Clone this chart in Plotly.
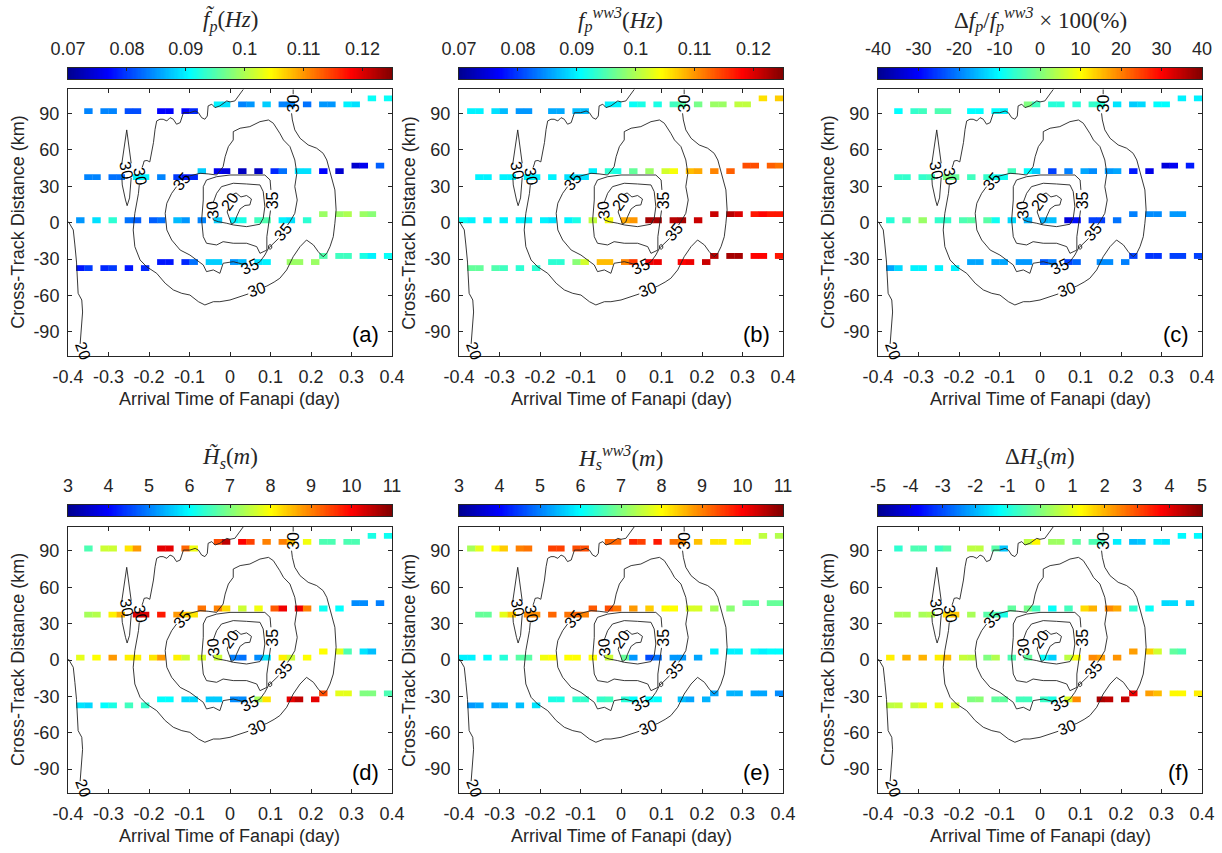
import plotly.graph_objects as go
import numpy as np

# ---------------- data ----------------
STEP = 0.02  # sampling interval along each track (day)
SEG_NAMES = ['T1L', 'T1M', 'T1R', 'T2L', 'T2M', 'T2R', 'T3L', 'T3R', 'T4L', 'T4M', 'T4R']
SEG_Y = [92.0, 97.5, 102.5, 37.5, 42.5, 47.0, 2.0, 7.0, -37.5, -32.5, -27.5]      # km
SEG_T0 = [-0.38, -0.04, 0.34, -0.36, -0.08, 0.30, -0.40, 0.22, -0.38, -0.18, 0.22]  # day
N = None

FP_OBS = {  # f_p observed (Hz)
    'T1L': [N, .084, N, .084, .084, N, .081, .081, N, N, .077, .077, N, .077, .079],
    'T1M': [.090, .089, N, .084, .085, N, .088, N, .084, .084, N, .083, N, .085, .085, N, .090, .089],
    'T1R': [.091, N, .091],
    'T2L': [.084, .084, N, .083, .083, N, .090, .090, N, .084, N, .080, .078, .079],
    'T2M': [.088, N, .076, .075, N, .073, N, .073, N, .079, .083, N, .089, .089, N, .077, N, .074],
    'T2R': [.074, .076, N, .082, N],
    'T3L': [N, .085, N, .089, N, .093, N, .083, .082, N, .082, .083, N, .087, .085, N, .084, N, .088, N,
            .090, .092, N, .094, .095, N, .090, .089, N, .093],
    'T3R': [.099, N, .099, .100, N, .099, .098, N, N],
    'T4L': [.078, .080, N, .079, .080, N, .078, N, .079],
    'T4M': [.078, .078, N, .079, .083, N, .088, .088, N, .085, .087, N, .089, .090, N, N, .099, .099, N, .099],
    'T4R': [.095, N, .094, .094, N, .092, .090, N, .091],
}
FP_WW3 = {  # f_p WW3 (Hz)
    'T1L': [.090, .090, N, .089, .087, N, .085, .085, N, N, .086, .086, N, .087, .087],
    'T1M': [.090, .090, N, .091, .092, N, .092, N, .094, .095, N, .097, N, .099, .099, N, .101, .101],
    'T1R': [.106, N, .107],
    'T2L': [.090, .090, N, .090, .090, N, .090, .090, N, .090, N, .089, .089, .089],
    'T2M': [.090, N, .093, .092, N, .096, N, .099, N, .102, .104, N, .108, .109, N, .111, N, .113],
    'T2R': [.114, .114, N, .113, .112],
    'T3L': [.091, .090, N, .090, N, .090, N, .090, .090, N, .090, .089, N, .090, .092, N, .101, N, .104, N,
            .109, .110, N, .123, .123, N, .122, .123, N, .121],
    'T3R': [.121, N, .122, .120, N, .117, .118, .117, .117],
    'T4L': [.096, .096, N, .095, .094, N, .093, N, .093],
    'T4M': [.093, .093, N, .098, .102, N, .108, .108, N, .111, .115, N, .119, .119, N, N, .118, .119, N, .121],
    'T4R': [.122, N, .123, .123, N, .118, .118, N, .117],
}
DFP_PCT = {  # relative f_p difference (%)
    'T1L': [N, -10, N, -6, -5, N, -4, -4, N, N, -10, -10, N, -10, -11],
    'T1M': [0, -5, N, -7, -7, N, -7, N, -6, -7, N, -12, N, -14, -13, N, -10, -10],
    'T1R': [-11, N, -11],
    'T2L': [-6, -6, N, -6, -5, N, 0, -2, N, -5, N, -6, -9, -9],
    'T2M': [-5, N, -10, -14, N, -25, N, -20, N, -17, -19, N, -18, -17, N, -28, N, -32],
    'T2R': [-33, -31, N, -28, N],
    'T3L': [N, -7, N, -3, N, 2, N, -6, -6, N, -4, -3, N, -3, -9, N, -13, N, -16, N,
            -16, -15, N, -33, -29, N, -25, -25, N, -21],
    'T3R': [-20, N, -19, -19, N, -18, -18, N, N],
    'T4L': [-17, -13, N, -11, -11, N, -11, N, -11],
    'T4M': [-17, -17, N, -17, -17, N, -18, -18, N, -23, -20, N, -25, -22, N, N, -19, -19, N, -20],
    'T4R': [-25, N, -26, -26, N, -25, -25, N, -25],
}
HS_OBS = {  # H_s observed (m)
    'T1L': [N, 6.6, N, 7.6, 7.6, N, 8.2, 8.8, N, N, 10.2, 10.2, N, 9.2, 7.9],
    'T1M': [9.4, 10.5, N, 10.0, 9.5, N, 9.0, N, 9.0, 8.5, N, 7.9, N, 6.6, 6.6, N, 6.6, 6.6],
    'T1R': [6.2, N, 6.1],
    'T2L': [7.3, 7.4, N, 8.1, 8.6, N, 10.3, 10.3, N, 9.8, N, 8.8, 8.4, 8.2],
    'T2M': [9.1, N, 9.0, 8.3, N, 7.6, N, 7.9, N, 9.3, 10.1, N, 10.1, 9.0, N, 6.1, N, 6.0],
    'T2R': [5.1, 5.1, N, 5.0, N],
    'T3L': [N, 7.8, N, 8.0, N, 8.8, N, 8.1, 8.1, N, 8.2, 8.8, N, 8.1, 7.6, N, 7.7, N, 7.6, N,
            5.0, 4.9, N, 5.1, 5.8, N, 8.1, 7.6, N, 8.0],
    'T3R': [8.0, N, 7.8, 6.6, N, 5.8, 5.5, N, N],
    'T4L': [5.8, 5.7, N, 6.0, 6.2, N, 6.5, N, 6.4],
    'T4M': [6.0, 6.0, N, 5.7, 5.7, N, 5.6, 5.6, N, 5.1, 5.1, N, 7.3, 8.2, N, N, 10.2, 10.5, N, 10.2],
    'T4R': [9.4, N, 7.8, 7.8, N, 7.0, 7.0, N, 6.6],
}
HS_WW3 = {  # H_s WW3 (m)
    'T1L': [7.3, 7.8, N, 8.0, 8.4, N, 9.0, 9.1, N, N, 9.5, 9.5, N, 9.4, 9.4],
    'T1M': [9.2, 9.2, N, 9.7, 9.5, N, 9.8, N, 9.1, 8.9, N, 8.5, N, 8.2, 8.2, N, 8.0, 7.9],
    'T1R': [7.5, N, 7.4],
    'T2L': [6.8, 6.8, N, 7.8, 8.4, N, 8.9, 8.9, N, 9.2, N, 9.1, 9.2, 9.0],
    'T2M': [9.3, N, 9.4, 9.1, N, 8.8, N, 8.4, N, 8.0, 8.0, N, 7.7, 7.7, N, 7.3, N, 7.1],
    'T2R': [6.8, 6.8, N, 6.8, 6.8],
    'T3L': [5.9, 5.9, N, 6.0, N, 6.3, N, 6.7, 6.7, N, 7.9, 8.0, N, 8.0, 8.0, N, 8.0, N, 7.6, N,
            6.8, 5.2, N, 4.6, 4.9, N, 5.2, 5.2, N, 5.3],
    'T3R': [5.9, N, 5.9, 5.9, N, 6.1, 5.9, 6.0, 6.0],
    'T4L': [5.2, 5.3, N, 5.3, 5.4, N, 5.5, N, 5.8],
    'T4M': [6.2, 6.2, N, 6.4, 6.4, N, 6.4, 6.5, N, 6.3, 6.0, N, 6.0, 6.0, N, N, 5.5, 5.3, N, 5.4],
    'T4R': [5.3, N, 5.4, 5.4, N, 5.3, 5.3, N, 5.1],
}
DHS = {  # H_s difference (m)
    'T1L': [N, -0.8, N, -0.5, -0.5, N, -0.7, -0.4, N, N, 0.6, 0.6, N, -0.4, -1.8],
    'T1M': [0.6, 1.3, N, 0.3, 0.3, N, -0.3, N, -0.5, -0.6, N, -1.4, N, -1.9, -1.8, N, -1.4, -1.5],
    'T1R': [-1.3, N, -1.3],
    'T2L': [0.4, 0.4, N, 0.4, 0.5, N, 1.6, 1.8, N, 0.4, N, -0.4, -0.5, -1.0],
    'T2M': [-0.3, N, -0.1, -0.6, N, -1.2, N, -0.6, N, 1.6, 2.0, N, 2.4, 2.1, N, -0.8, N, -1.2],
    'T2R': [-1.6, -1.6, N, -1.7, N],
    'T3L': [N, 1.4, N, 2.0, N, 2.0, N, 1.4, 1.9, N, 0.7, 0.6, N, 0.0, 0.5, N, -0.5, N, -0.3, N,
            -1.2, -1.7, N, 0.6, 1.2, N, 2.4, 2.2, N, 2.3],
    'T3R': [2.2, N, 1.7, 0.8, N, -0.3, -0.5, N, N],
    'T4L': [0.6, 0.7, N, 0.7, 1.0, N, 1.1, N, 0.8],
    'T4M': [0.0, 0.1, N, -0.3, -0.3, N, -0.6, -0.6, N, -0.7, -1.0, N, 0.9, 2.4, N, N, 4.6, 4.4, N, 4.3],
    'T4R': [3.9, N, 2.2, 1.9, N, 1.3, 1.3, N, 1.4],
}

# wind-speed contour paths (time in day, cross-track km); None = break at a label
C_OUTER30_T = [0.033, 0.020, 0.012, 0.000, -0.008, -0.025, -0.037, -0.045, -0.054, -0.056, -0.062, -0.070,
               -0.078, -0.086, -0.099, -0.115, -0.123, -0.132, -0.140, -0.148, -0.156, -0.165, -0.173,
               -0.181, -0.185, -0.189, -0.193, -0.198, -0.205, -0.212, -0.214, -0.217, None,
               -0.224, -0.226, -0.235, -0.239, -0.235, -0.222, -0.206, -0.181, -0.160, -0.140, -0.119,
               -0.099, -0.078, -0.062, -0.041, -0.025, 0.000, 0.025, 0.045, None,
               0.085, 0.091, 0.109, 0.123, 0.140, 0.156, 0.173, 0.189, 0.206, 0.218, 0.230, 0.239, 0.247,
               0.255, 0.259, 0.262, 0.259, 0.251, 0.239, 0.230, 0.214, 0.193, 0.173, 0.160, 0.154, 0.152,
               None, 0.156, 0.156]
C_OUTER30_Y = [110.0, 104.5, 100.4, 99.6, 100.4, 96.3, 94.9, 97.7, 96.3, 88.0, 85.3, 86.6,
               90.7, 92.1, 90.7, 90.7, 82.5, 81.2, 85.3, 86.6, 83.9, 85.3, 85.3,
               83.9, 77.0, 66.0, 57.7, 50.1, 51.3, 50.9, 48.4, 45.5, None,
               31.0, 24.2, 7.7, -6.0, -19.8, -30.8, -36.3, -41.8, -50.0, -55.5, -58.3,
               -59.7, -65.2, -67.9, -65.2, -65.2, -63.8, -61.1, -58.8, None,
               -53.0, -52.3, -49.0, -45.9, -39.0, -28.1, -19.8, -14.3, -18.4, -24.0, -28.1, -25.3, -19.8,
               -11.6, -0.5, 10.5, 27.0, 37.9, 51.7, 57.2, 61.4, 64.1, 69.6, 76.5, 84.7, 90.2,
               None, 106.0, 110.0]
C_OUTER35_T = [-0.107, -0.091, -0.074, -0.054, -0.033, -0.017, -0.012, -0.004, 0.008, 0.008, 0.025, 0.049,
               0.074, 0.095, 0.107, 0.123, 0.132, 0.148, 0.160, 0.165, 0.160, 0.166, 0.160, 0.148, 0.142,
               None, 0.120, 0.107, 0.095, 0.086, 0.074, 0.062, None,
               0.035, 0.025, 0.008, -0.017, -0.025, -0.041, -0.058, -0.066, -0.082, -0.099, -0.123,
               -0.144, -0.156, -0.160, -0.156, -0.144, -0.132]
C_OUTER35_Y = [37.9, 39.3, 40.7, 40.2, 39.3, 46.2, 54.4, 62.7, 68.2, 75.1, 77.9, 79.2,
               83.3, 84.7, 82.0, 73.7, 68.2, 62.7, 51.7, 40.7, 29.7, 18.7, 7.7, 0.8, -2.0,
               None, -13.0, -17.0, -21.1, -26.7, -32.2, -34.5, None,
               -34.5, -33.5, -32.2, -33.5, -41.8, -39.0, -40.4, -34.9, -30.8, -26.7, -22.6,
               -14.3, -6.0, 7.7, 16.0, 24.2, 29.7]
C_INNER35_T = [0.101, 0.099, 0.086, 0.049, 0.000, -0.033, -0.058, -0.066, -0.066, -0.070, -0.066, -0.058,
               -0.033, -0.017, 0.008, 0.041, 0.066, 0.074, 0.091, 0.091, 0.095, 0.099, 0.100]
C_INNER35_Y = [27.0, 35.2, 39.3, 39.3, 39.3, 37.9, 35.2, 29.7, 18.7, 2.2, -11.6, -17.0,
               -18.4, -15.7, -17.0, -17.0, -19.8, -25.3, -22.6, -11.6, -0.5, 7.7, 10.0]
C_INNER30_T = [-0.041, -0.033, -0.021, 0.008, 0.041, 0.074, 0.082, 0.086, 0.082, 0.074, 0.041, 0.008,
               -0.008, -0.029, -0.041, -0.042]
C_INNER30_Y = [17.0, 24.2, 29.7, 32.5, 31.9, 31.1, 25.6, 13.2, 3.6, -1.3, -3.3, -1.9,
               -0.5, 0.8, 2.2, 4.0]
C_CORE20_T = [-0.005, -0.007, 0.004, 0.012, 0.016, 0.025, 0.037, 0.049, 0.053, 0.041, 0.027, 0.015, 0.006]
C_CORE20_Y = [11.0, 8.8, -1.4, 0.6, 4.7, 11.3, 14.2, 14.6, 19.5, 22.4, 21.2, 24.5, 23.0]
C_BLOB35_T = [0.099, 0.103, 0.103, 0.099, 0.095, 0.095, 0.099]
C_BLOB35_Y = [-18.0, -19.0, -21.0, -22.0, -21.0, -19.0, -18.0]
C_ELLIPSE30_T = [-0.255, -0.252, -0.247, -0.244, None, -0.244, -0.245, -0.248, -0.254, -0.258, -0.266,
                 -0.267, None, -0.267, -0.264, -0.259, -0.255]
C_ELLIPSE30_Y = [76.5, 68.2, 55.8, 49.0, None, 37.0, 31.1, 20.4, 14.0, 18.7, 31.1,
                 37.0, None, 49.0, 55.8, 68.2, 76.5]
C_EDGE20_T = [-0.399, -0.387, -0.383, -0.379, -0.375, -0.366, -0.364, -0.367, -0.370, -0.370]
C_EDGE20_Y = [0.8, -6.0, -18.4, -32.5, -58.3, -63.8, -73.7, -84.4, -96.8, -100.0]

# contour labels: time, km, text, rotation
CLAB_T = [0.156, 0.066, -0.222, -0.255, -0.119, 0.132, 0.049, 0.104, -0.042, 0.000, -0.362]
CLAB_Y = [98.5, -55.5, 38.0, 43.4, 33.8, -7.5, -36.3, 18.5, 10.5, 17.3, -106.0]
CLAB_TXT = ['30', '30', '30', '30', '35', '35', '35', '35', '30', '20', '20']
CLAB_ROT = [-90, -20, 80, 80, -50, -50, -25, -90, -95, -55, 70]

XTICKS = [-0.4, -0.3, -0.2, -0.1, 0, 0.1, 0.2, 0.3, 0.4]
XTICKTEXT = ['-0.4', '-0.3', '-0.2', '-0.1', '0', '0.1', '0.2', '0.3', '0.4']
YTICKS = [-90, -60, -30, 0, 30, 60, 90]
YTICKTEXT = ['-90', '-60', '-30', '0', '30', '60', '90']

CB_FP_TICKS = [0.07, 0.08, 0.09, 0.10, 0.11, 0.12]
CB_FP_TEXT = ['0.07', '0.08', '0.09', '0.1', '0.11', '0.12']
CB_DFP_TICKS = [-40, -30, -20, -10, 0, 10, 20, 30, 40]
CB_DFP_TEXT = ['-40', '-30', '-20', '-10', '0', '10', '20', '30', '40']
CB_HS_TICKS = [3, 4, 5, 6, 7, 8, 9, 10, 11]
CB_HS_TEXT = ['3', '4', '5', '6', '7', '8', '9', '10', '11']
CB_DHS_TICKS = [-5, -4, -3, -2, -1, 0, 1, 2, 3, 4, 5]
CB_DHS_TEXT = ['-5', '-4', '-3', '-2', '-1', '0', '1', '2', '3', '4', '5']

TITLES = ['<i>f&#771;<sub>p</sub></i>(<i>Hz</i>)',
          '<i>f<sub>p</sub><sup>ww3</sup></i>(<i>Hz</i>)',
          '&#916;<i>f<sub>p</sub></i>/<i>f<sub>p</sub><sup>ww3</sup></i> &#215; 100(%)',
          '<i>H&#771;<sub>s</sub></i>(<i>m</i>)',
          '<i>H<sub>s</sub><sup>ww3</sup></i>(<i>m</i>)',
          '&#916;<i>H<sub>s</sub></i>(<i>m</i>)']
LETTERS = ['(a)', '(b)', '(c)', '(d)', '(e)', '(f)']

PANELS = [
    (FP_OBS, 0.07, 0.125, CB_FP_TICKS, CB_FP_TEXT),
    (FP_WW3, 0.07, 0.125, CB_FP_TICKS, CB_FP_TEXT),
    (DFP_PCT, -40, 40, CB_DFP_TICKS, CB_DFP_TEXT),
    (HS_OBS, 3, 11, CB_HS_TICKS, CB_HS_TEXT),
    (HS_WW3, 3, 11, CB_HS_TICKS, CB_HS_TEXT),
    (DHS, -5, 5, CB_DHS_TICKS, CB_DHS_TEXT),
]

# ---------------- style / layout ----------------
W, H = 1222, 853
JET = [[0.0, 'rgb(0,0,143)'], [0.125, 'rgb(0,0,255)'], [0.375, 'rgb(0,255,255)'],
       [0.625, 'rgb(255,255,0)'], [0.875, 'rgb(255,0,0)'], [1.0, 'rgb(128,0,0)']]
AXC = '#262626'
SANS = 'Liberation Sans, Arial, Helvetica, sans-serif'
SERIF = 'Liberation Serif, DejaVu Serif, serif'

XD = [[68 / W, 392 / W], [459 / W, 783 / W], [878 / W, 1202 / W]]
YD = [[1 - 356 / H, 1 - 89.3 / H], [1 - 793.3 / H, 1 - 526.7 / H]]
CBY = [[1 - 79 / H, 1 - 68 / H], [1 - 516 / H, 1 - 505 / H]]
TITLE_Y = [1 - 20 / H, 1 - 458 / H]

BAR_THICK = 4.8  # km


def join_paths(pairs):
    xs, ys = [], []
    for tx, ty in pairs:
        xs += list(tx) + [None]
        ys += list(ty) + [None]
    return xs, ys


CX, CY = join_paths([(C_OUTER30_T, C_OUTER30_Y), (C_OUTER35_T, C_OUTER35_Y),
                     (C_INNER35_T, C_INNER35_Y), (C_INNER30_T, C_INNER30_Y),
                     (C_CORE20_T, C_CORE20_Y), (C_BLOB35_T, C_BLOB35_Y),
                     (C_ELLIPSE30_T, C_ELLIPSE30_Y), (C_EDGE20_T, C_EDGE20_Y)])

fig = go.Figure()
layout = dict(width=W, height=H, margin=dict(l=0, r=0, t=0, b=0), template='none',
              paper_bgcolor='white', plot_bgcolor='white', showlegend=False, barmode='overlay',
              font=dict(family=SANS, size=18, color=AXC))
annotations = []

for k, (data, cmin, cmax, cticks, ctext) in enumerate(PANELS):
    i = k + 1
    row, col = divmod(k, 3)
    xa = 'x' if i == 1 else f'x{i}'
    ya = 'y' if i == 1 else f'y{i}'
    ca = 'coloraxis' if i == 1 else f'coloraxis{i}'
    layout[ca] = dict(colorscale=JET, cmin=cmin, cmax=cmax, showscale=False)

    bx, bb, by, bc = [], [], [], []
    for name, y0, t0 in zip(SEG_NAMES, SEG_Y, SEG_T0):
        for j, v in enumerate(data[name]):
            if v is None:
                continue
            bb.append(t0 + j * STEP)
            bx.append(STEP * 1.04)
            by.append(y0)
            bc.append(v)
    fig.add_trace(go.Bar(x=bx, base=bb, y=by, orientation='h', width=BAR_THICK,
                         marker=dict(color=bc, coloraxis=ca, line=dict(width=0)),
                         xaxis=xa, yaxis=ya, hoverinfo='skip'))
    fig.add_trace(go.Scatter(x=CX, y=CY, mode='lines', line=dict(color='#222222', width=0.9),
                             xaxis=xa, yaxis=ya, hoverinfo='skip', connectgaps=False))

    common = dict(showline=True, linecolor=AXC, linewidth=1, mirror='ticks', ticks='inside',
                  ticklen=4, tickwidth=1, tickcolor=AXC, showgrid=False, zeroline=False,
                  tickfont=dict(family=SANS, size=18, color=AXC), automargin=False, fixedrange=True)
    layout['xaxis' if i == 1 else f'xaxis{i}'] = dict(domain=XD[col], range=[-0.4, 0.4], tickvals=XTICKS,
                                                     ticktext=XTICKTEXT, anchor=ya, ticklabelstandoff=4, **common)
    layout['yaxis' if i == 1 else f'yaxis{i}'] = dict(domain=YD[row], range=[-110, 110], tickvals=YTICKS,
                                                     ticktext=YTICKTEXT, anchor=xa, ticklabelstandoff=4, **common)

    # colour bar drawn as a small heatmap strip on its own axes
    j = i + 6
    cxa, cya = f'x{j}', f'y{j}'
    grad = np.linspace(cmin, cmax, 256)
    fig.add_trace(go.Heatmap(z=[grad], x=grad, y=[0], colorscale=JET, zmin=cmin, zmax=cmax,
                             showscale=False, xaxis=cxa, yaxis=cya, hoverinfo='skip'))
    layout[f'xaxis{j}'] = dict(domain=XD[col], range=[cmin, cmax], side='top', tickvals=cticks,
                               ticktext=ctext, ticks='inside', ticklen=3, tickcolor=AXC, showline=True,
                               mirror=True, linecolor=AXC, linewidth=1, anchor=cya, showgrid=False,
                               zeroline=False, tickfont=dict(family=SANS, size=18, color=AXC),
                               ticklabelstandoff=5, automargin=False, fixedrange=True)
    layout[f'yaxis{j}'] = dict(domain=CBY[row], range=[-0.5, 0.5], showticklabels=False, ticks='',
                               showline=True, mirror=True, linecolor=AXC, linewidth=1, anchor=cxa,
                               showgrid=False, zeroline=False, automargin=False, fixedrange=True)

    # colour bar title
    annotations.append(dict(text=TITLES[k], xref='paper', yref='paper', x=sum(XD[col]) / 2, y=TITLE_Y[row],
                            xanchor='center', yanchor='middle', showarrow=False,
                            font=dict(family=SERIF, size=23, color=AXC)))
    # axis titles
    annotations.append(dict(text='Arrival Time of Fanapi (day)', xref=f'{xa} domain', yref=f'{ya} domain',
                            x=0.5, y=-0.16, xanchor='center', yanchor='middle', showarrow=False,
                            font=dict(family=SANS, size=18, color=AXC)))
    annotations.append(dict(text='Cross-Track Distance (km)', xref=f'{xa} domain', yref=f'{ya} domain',
                            x=-50 / 324, y=0.5, xanchor='center', yanchor='middle', textangle=-90,
                            showarrow=False, font=dict(family=SANS, size=18, color=AXC)))
    # panel letter
    annotations.append(dict(text=LETTERS[k], xref=f'{xa} domain', yref=f'{ya} domain', x=0.965, y=0.025,
                            xanchor='right', yanchor='bottom', showarrow=False,
                            font=dict(family=SANS, size=22, color='black')))
    # contour labels
    for tx, ty, tt, rot in zip(CLAB_T, CLAB_Y, CLAB_TXT, CLAB_ROT):
        annotations.append(dict(text=tt, x=tx, y=ty, xref=xa, yref=ya, showarrow=False, textangle=rot,
                                xanchor='center', yanchor='middle',
                                font=dict(family=SANS, size=16, color='black')))

layout['annotations'] = annotations
fig.update_layout(**layout)
fig.write_html('out.html')
